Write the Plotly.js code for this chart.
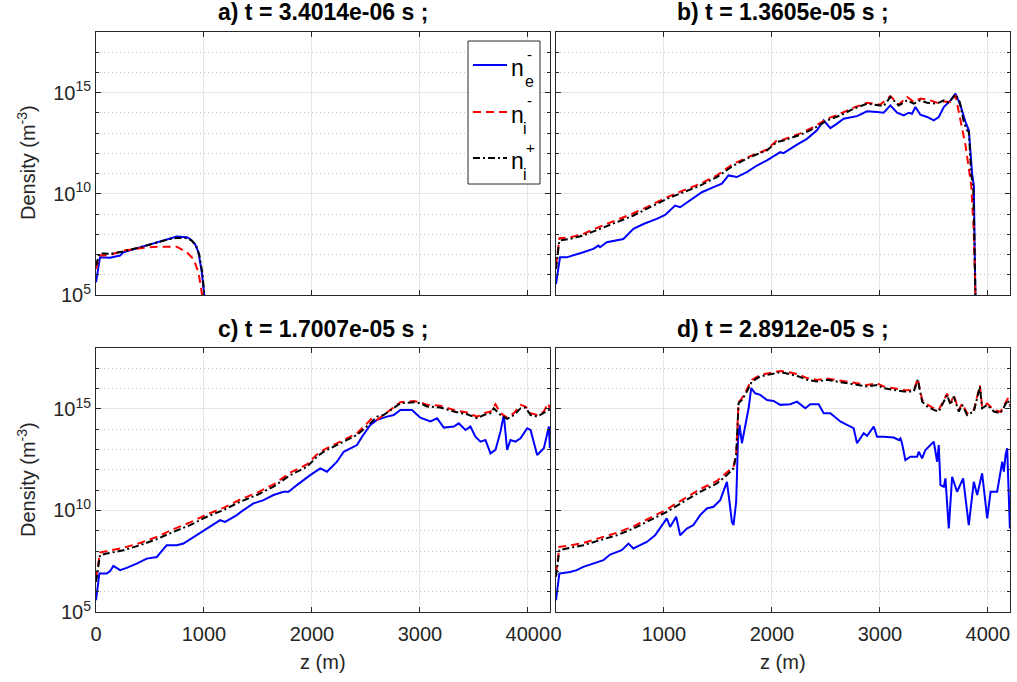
<!DOCTYPE html>
<html>
<head>
<meta charset="utf-8">
<script src="https://cdn.plot.ly/plotly-3.0.1.min.js"></script>
<style>
  html, body { margin: 0; padding: 0; background: #ffffff; }
  #chart { width: 1017px; height: 682px; }
</style>
</head>
<body>
<div id="chart"></div>
<script>
// Density profiles along z for four instants; values are log10(density / m^-3).

// a) t = 3.4014e-06 s
const zNeA = [0, 37, 130, 223, 253, 408, 563, 686, 748, 841, 872, 918, 949, 980, 1005];
const logNeA = [5.63, 6.86, 6.84, 6.95, 7.11, 7.36, 7.61, 7.77, 7.89, 7.85, 7.77, 7.52, 7.11, 6.12, 4.9];
const zNimA = [0, 31, 130, 253, 408, 563, 748, 779, 841, 903, 949, 974, 986];
const logNimA = [6.29, 6.95, 6.98, 7.19, 7.31, 7.39, 7.39, 7.31, 7.11, 6.78, 6.12, 5.30, 4.9];
const zNipA = [0, 31, 130, 253, 408, 563, 686, 748, 841, 887, 927, 958, 986, 1005];
const logNipA = [6.45, 7.06, 7.03, 7.15, 7.36, 7.61, 7.77, 7.82, 7.81, 7.69, 7.44, 6.95, 6.04, 4.9];

// b) t = 1.3605e-05 s
const zNeB = [0, 37, 99, 161, 253, 346, 393, 408, 470, 624, 717, 810, 933, 1011, 1103, 1150, 1243, 1351, 1459, 1536,
  1598, 1675, 1768, 1861, 1954, 2077, 2108, 2170, 2232, 2324, 2417, 2479, 2541, 2603, 2664, 2788, 2881, 2974, 3035, 3097,
  3159, 3221, 3267, 3298, 3329, 3375, 3437, 3499, 3545, 3592, 3654, 3700, 3746, 3793, 3824, 3854, 3870, 3879, 3885];
const logNeB = [5.54, 6.86, 6.86, 6.95, 7.11, 7.28, 7.44, 7.36, 7.61, 7.77, 8.27, 8.51, 8.76, 8.96, 9.42, 9.34, 9.67, 10.08, 10.33, 10.50,
  10.91, 10.83, 11.07, 11.40, 11.65, 12.06, 12.01, 12.23, 12.43, 12.72, 13.14, 13.63, 13.25, 13.47, 13.71, 13.84, 14.08, 14.04, 14.01, 14.37,
  14.01, 13.88, 14.01, 13.96, 14.29, 13.91, 13.80, 13.63, 13.80, 14.29, 14.62, 14.95, 14.37, 13.55, 13.14, 10.99, 10.41, 6.78, 4.9];
const zNimB = [0, 31, 130, 253, 408, 563, 717, 872, 1026, 1181, 1335, 1490, 1644, 1799, 1954, 2046, 2108, 2263, 2386, 2510,
  2634, 2757, 2881, 3004, 3097, 3174, 3252, 3314, 3375, 3437, 3530, 3592, 3654, 3700, 3730, 3793, 3846, 3870, 3885];
const logNimB = [6.45, 7.81, 7.85, 8.02, 8.38, 8.71, 9.04, 9.42, 9.83, 10.17, 10.50, 10.91, 11.49, 11.86, 12.19, 12.64, 12.69, 12.99, 13.30, 13.71,
  13.96, 14.26, 14.50, 14.41, 14.83, 14.41, 14.79, 14.54, 14.71, 14.67, 14.50, 14.57, 14.54, 14.87, 14.04, 12.39, 10.41, 8.10, 4.9];
const zNipB = [0, 31, 130, 253, 408, 563, 717, 872, 1026, 1181, 1335, 1490, 1644, 1799, 1954, 2046, 2108, 2263, 2386, 2510,
  2634, 2757, 2881, 3004, 3035, 3097, 3174, 3252, 3314, 3375, 3437, 3530, 3592, 3638, 3700, 3740, 3777, 3808, 3824, 3846,
  3864, 3873, 3885];
const logNipB = [6.29, 7.69, 7.77, 7.94, 8.27, 8.60, 8.93, 9.34, 9.75, 10.08, 10.41, 10.83, 11.40, 11.82, 12.15, 12.56, 12.64, 12.92, 13.22, 13.63,
  13.88, 14.21, 14.46, 14.37, 14.34, 14.79, 14.37, 14.62, 14.46, 14.62, 14.50, 14.46, 14.62, 14.50, 14.92, 14.54, 13.55, 13.14, 13.05, 10.91,
  10.41, 8.43, 4.9];

// c) t = 1.7007e-05 s
const zNeC = [0, 31, 99, 130, 161, 223, 284, 377, 470, 563, 655, 748, 810, 933, 1026, 1150, 1196, 1304, 1366, 1459,
  1552, 1644, 1737, 1784, 1861, 1923, 1984, 2077, 2139, 2232, 2294, 2417, 2464, 2541, 2603, 2695, 2757, 2819, 2927, 3004,
  3097, 3159, 3221, 3314, 3360, 3422, 3468, 3514, 3561, 3607, 3654, 3700, 3746, 3777, 3808, 3839, 3885, 3932, 3994, 4025,
  4056, 4086, 4148, 4195, 4204];
const logNeC = [5.58, 6.89, 6.89, 7.01, 7.27, 7.06, 7.17, 7.38, 7.63, 7.71, 8.29, 8.29, 8.37, 8.78, 9.11, 9.52, 9.44, 9.77, 10.02, 10.35,
  10.51, 10.76, 10.92, 10.92, 11.25, 11.50, 11.74, 12.07, 11.91, 12.40, 12.89, 13.22, 13.63, 14.21, 14.46, 14.62, 14.70, 14.95, 14.95, 14.57,
  14.38, 14.54, 14.08, 14.13, 14.29, 13.96, 14.13, 13.63, 13.39, 13.47, 12.81, 12.98, 13.88, 14.70, 12.98, 13.47, 13.39, 13.55, 14.05, 13.96,
  13.39, 12.73, 13.06, 14.13, 13.06];
const zNimC = [0, 37, 253, 408, 563, 717, 872, 1026, 1181, 1335, 1490, 1644, 1799, 1954, 2046, 2108, 2263, 2417, 2510, 2557,
  2603, 2664, 2726, 2819, 2943, 3004, 3066, 3190, 3314, 3437, 3530, 3592, 3654, 3700, 3746, 3808, 3870, 3932, 3978, 4025,
  4086, 4148, 4186, 4204];
const logNimC = [6.64, 7.93, 8.16, 8.40, 8.70, 9.08, 9.41, 9.80, 10.13, 10.54, 10.87, 11.28, 11.86, 12.27, 12.76, 12.98, 13.39, 13.80, 14.29, 14.54,
  14.46, 14.70, 14.95, 15.33, 15.39, 15.33, 15.20, 15.16, 14.95, 14.82, 14.62, 14.79, 14.87, 15.23, 14.79, 14.57, 14.79, 15.20, 15.12, 14.79,
  14.70, 14.87, 15.28, 15.03];
const zNipC = [0, 37, 99, 253, 408, 563, 717, 872, 1026, 1181, 1335, 1490, 1644, 1799, 1954, 2046, 2108, 2263, 2417, 2541,
  2603, 2664, 2726, 2819, 2943, 3004, 3066, 3190, 3314, 3437, 3530, 3592, 3654, 3684, 3746, 3808, 3870, 3932, 3978, 4025,
  4086, 4148, 4195, 4204];
const logNipC = [6.48, 7.80, 7.88, 8.04, 8.29, 8.59, 8.95, 9.28, 9.69, 10.02, 10.43, 10.76, 11.17, 11.74, 12.15, 12.65, 12.89, 13.31, 13.72, 14.29,
  14.62, 14.70, 14.95, 15.28, 15.33, 15.28, 15.12, 15.07, 14.87, 14.74, 14.54, 14.70, 14.79, 15.03, 14.70, 14.51, 14.70, 15.03, 15.07, 14.70,
  14.62, 14.79, 14.95, 14.85];

// d) t = 2.8912e-05 s
const zNeD = [0, 31, 130, 192, 253, 346, 439, 501, 563, 609, 671, 717, 779, 841, 918, 964, 1026, 1057, 1113, 1150,
  1212, 1273, 1335, 1397, 1459, 1521, 1583, 1607, 1629, 1644, 1669, 1685, 1700, 1722, 1753, 1784, 1808, 1845, 1892, 1954,
  2015, 2077, 2170, 2232, 2309, 2355, 2433, 2479, 2541, 2634, 2695, 2757, 2788, 2850, 2881, 2943, 2974, 3035, 3128, 3174,
  3190, 3205, 3236, 3283, 3345, 3360, 3391, 3422, 3499, 3530, 3545, 3561, 3592, 3607, 3638, 3669, 3715, 3771, 3823, 3870,
  3901, 3947, 3994, 4025, 4086, 4133, 4148, 4164, 4179, 4195, 4204];
const logNeD = [5.58, 6.89, 6.97, 7.06, 7.22, 7.38, 7.55, 7.83, 7.93, 8.04, 8.37, 8.13, 8.29, 8.45, 8.78, 9.11, 9.61, 9.19, 9.69, 8.78,
  9.11, 9.28, 9.77, 10.10, 10.18, 10.51, 11.41, 10.43, 9.44, 9.28, 10.43, 13.39, 14.21, 13.31, 14.21, 15.03, 16.02, 15.77, 15.69, 15.44,
  15.39, 15.20, 15.23, 15.36, 15.03, 15.23, 15.23, 14.79, 14.79, 14.38, 14.21, 14.05, 13.31, 13.80, 13.68, 14.13, 13.63, 13.63, 13.59, 13.47,
  13.55, 13.31, 12.48, 12.65, 12.65, 12.89, 12.57, 12.98, 13.39, 12.40, 13.22, 11.25, 11.17, 11.58, 9.11, 11.66, 10.92, 11.58, 9.28, 11.41,
  10.76, 11.83, 9.61, 10.92, 10.92, 12.40, 11.91, 12.73, 13.06, 10.43, 9.11];
const zIonD = [0, 31, 99, 253, 408, 563, 717, 872, 1026, 1181, 1335, 1490, 1583, 1644, 1669, 1691, 1722, 1768, 1814, 1892,
  1984, 2077, 2170, 2247, 2324, 2417, 2510, 2603, 2695, 2788, 2881, 2974, 3035, 3128, 3221, 3314, 3351, 3369, 3391, 3437,
  3499, 3545, 3623, 3654, 3684, 3731, 3762, 3808, 3870, 3926, 3947, 3994, 4056, 4117, 4164, 4186, 4204];
const logNimD = [6.89, 8.21, 8.25, 8.40, 8.65, 8.90, 9.22, 9.64, 10.05, 10.56, 11.05, 11.45, 11.86, 12.15, 12.80, 15.33, 15.52, 15.95, 16.43, 16.68,
  16.78, 16.87, 16.79, 16.70, 16.52, 16.43, 16.50, 16.42, 16.35, 16.25, 16.18, 16.27, 16.10, 16.02, 15.93, 15.92, 16.50, 16.00, 15.45, 15.22,
  15.03, 14.95, 15.75, 15.27, 15.68, 14.95, 15.27, 14.78, 14.95, 16.15, 15.10, 15.27, 14.95, 14.86, 15.35, 15.52, 15.20];
const logNipD = [6.73, 8.04, 8.13, 8.29, 8.54, 8.78, 9.11, 9.52, 9.93, 10.43, 10.92, 11.33, 11.74, 12.07, 12.73, 15.28, 15.44, 15.86, 16.35, 16.60,
  16.71, 16.81, 16.71, 16.60, 16.43, 16.35, 16.43, 16.35, 16.27, 16.18, 16.10, 16.18, 16.02, 15.94, 15.86, 15.86, 16.43, 15.94, 15.36, 15.12,
  14.95, 14.87, 15.69, 15.20, 15.61, 14.87, 15.20, 14.70, 14.87, 16.10, 15.03, 15.20, 14.87, 14.79, 15.28, 15.44, 15.12];

const panelTitles = ['a) t = 3.4014e-06 s ;', 'b) t = 1.3605e-05 s ;', 'c) t = 1.7007e-05 s ;', 'd) t = 2.8912e-05 s ;'];
const xTicks = [0, 1000, 2000, 3000, 4000];
const yTickExp = [5, 10, 15];
const yMinorExp = [6, 7, 8, 9, 11, 12, 13, 14, 16, 17];

const W = 1017, H = 682;
const FONT = 'Liberation Sans, Arial, Helvetica, sans-serif';
const AX = '#262626';
const px = v => v / W;
const py = v => 1 - v / H;
const pow10 = arr => arr.map(v => Math.pow(10, v));

const styleNe = { color: '#0000ff', width: 2, dash: 'solid' };
const styleNim = { color: '#ff0000', width: 2, dash: '8px,5px' };
const styleNip = { color: '#000000', width: 2, dash: '7px,3px,2px,3px' };

const panels = [
  [[zNeA, logNeA], [zNimA, logNimA], [zNipA, logNipA]],
  [[zNeB, logNeB], [zNimB, logNimB], [zNipB, logNipB]],
  [[zNeC, logNeC], [zNimC, logNimC], [zNipC, logNipC]],
  [[zNeD, logNeD], [zIonD, logNimD], [zIonD, logNipD]]
];
const styles = [styleNe, styleNim, styleNip];

const traces = [];
panels.forEach((series, p) => {
  const sfx = p === 0 ? '' : String(p + 1);
  series.forEach((s, k) => {
    traces.push({
      type: 'scatter', mode: 'lines',
      x: s[0], y: pow10(s[1]),
      xaxis: 'x' + sfx, yaxis: 'y' + sfx,
      line: styles[k], showlegend: false, hoverinfo: 'skip'
    });
  });
});

// panel frames in pixels: [left, right, top, bottom]
const frames = [[96, 550, 32, 295], [556, 1010, 32, 295], [96, 550, 348, 612], [556, 1010, 348, 612]];

function xAxis(p) {
  const f = frames[p];
  return {
    domain: [px(f[0]), px(f[1])], anchor: 'y' + (p === 0 ? '' : p + 1),
    range: [0, 4205], tickvals: xTicks, ticktext: xTicks.map(String),
    showticklabels: p >= 2, ticklabelstandoff: 4,
    ticks: 'inside', ticklen: 5, tickwidth: 1, tickcolor: AX,
    showline: true, mirror: 'ticks', linecolor: AX, linewidth: 1,
    showgrid: true, gridcolor: '#e6e6e6', gridwidth: 1, zeroline: false,
    tickfont: { family: FONT, size: 20, color: AX }
  };
}
function yAxis(p) {
  const f = frames[p];
  return {
    domain: [py(f[3]), py(f[2])], anchor: 'x' + (p === 0 ? '' : p + 1),
    type: 'log', range: [5, 18],
    tickvals: yTickExp.map(e => Math.pow(10, e)),
    ticktext: yTickExp.map(e => '10<sup>' + e + '</sup>'),
    showticklabels: p % 2 === 0,
    ticks: 'inside', ticklen: 5, tickwidth: 1, tickcolor: AX,
    showline: true, mirror: 'ticks', linecolor: AX, linewidth: 1,
    showgrid: true, gridcolor: '#e6e6e6', gridwidth: 1, zeroline: false,
    minor: {
      tickvals: yMinorExp.map(e => Math.pow(10, e)),
      ticks: 'inside', ticklen: 3, tickcolor: AX,
      showgrid: true, gridcolor: '#c8c8c8', griddash: '1px,3px', gridwidth: 1
    },
    tickfont: { family: FONT, size: 20, color: AX }
  };
}

const annotations = [];
const txt = (text, x, y, size, opts) => Object.assign({
  text: text, x: px(x), y: py(y), xref: 'paper', yref: 'paper',
  showarrow: false, xanchor: 'center', yanchor: 'middle',
  font: { family: FONT, size: size, color: AX }
}, opts || {});

panelTitles.forEach((t, p) => {
  const f = frames[p];
  annotations.push(txt('<b>' + t + '</b>', (f[0] + f[1]) / 2, p < 2 ? 12 : 329, 23, { font: { family: FONT, size: 23, color: '#000000' } }));
});
[163, 480].forEach(yc => annotations.push(txt('Density (m<sup>-3</sup>)', 26, yc, 20, { textangle: -90 })));
[323, 783].forEach(xc => annotations.push(txt('z (m)', xc, 662, 20)));

// legend inside panel a
const legendRows = [
  { y: 65, sup: '-', sub: 'e', style: styleNe, supX: 529.5, subX: 529.5 },
  { y: 112, sup: '-', sub: 'i', style: styleNim, supX: 529.5, subX: 524.5 },
  { y: 158, sup: '+', sub: 'i', style: styleNip, supX: 530.5, subX: 524.5 }
];
const shapes = [{
  type: 'rect', xref: 'paper', yref: 'paper',
  x0: px(468), x1: px(540), y0: py(184), y1: py(41),
  line: { color: AX, width: 1 }, fillcolor: '#ffffff'
}];
legendRows.forEach(r => {
  shapes.push({
    type: 'line', xref: 'paper', yref: 'paper',
    x0: px(473), x1: px(507), y0: py(r.y), y1: py(r.y),
    line: r.style
  });
  annotations.push(txt('n', 509, r.y + 3, 23, { xanchor: 'left', font: { family: FONT, size: 23, color: '#000000' } }));
  annotations.push(txt(r.sup, r.supX, r.y - 11, 15, { font: { family: FONT, size: 15, color: '#000000' } }));
  annotations.push(txt(r.sub, r.subX, r.y + 16, 16, { font: { family: FONT, size: 16, color: '#000000' } }));
});

const layout = {
  width: W, height: H,
  margin: { l: 0, r: 0, t: 0, b: 0, pad: 0 },
  paper_bgcolor: '#ffffff', plot_bgcolor: '#ffffff',
  font: { family: FONT, color: AX },
  showlegend: false,
  xaxis: xAxis(0), xaxis2: xAxis(1), xaxis3: xAxis(2), xaxis4: xAxis(3),
  yaxis: yAxis(0), yaxis2: yAxis(1), yaxis3: yAxis(2), yaxis4: yAxis(3),
  annotations: annotations,
  shapes: shapes
};

Plotly.newPlot('chart', traces, layout, { staticPlot: true, displayModeBar: false });
</script>
</body>
</html>
